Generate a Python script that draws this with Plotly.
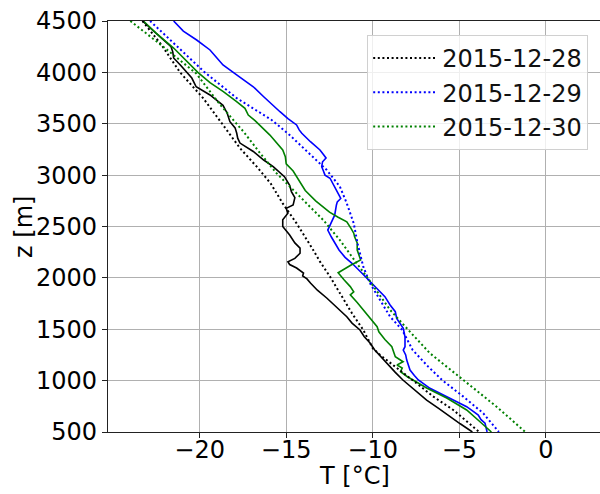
import plotly.graph_objects as go

# ---- data (T in °C, z in m) ----
obs_28_z = [4500, 4380, 4250, 4200, 4140, 4070, 3945, 3860, 3780, 3680, 3600, 3520, 3460, 3410, 3360, 3312,
            3230, 3147, 3082, 2985, 2900, 2840, 2780, 2710, 2677, 2630, 2565, 2500, 2417, 2340, 2290, 2240,
            2190, 2157, 2130, 2096, 2047, 2020, 1990, 1950, 1880, 1804, 1720, 1622, 1560, 1493, 1430, 1366,
            1300, 1233, 1150, 1080, 1006, 910, 811, 730, 649, 580, 500]
obs_28_t = [-23.3, -22.5, -21.65, -21.55, -21.5, -21.1, -20.45, -20.2, -19.4, -18.65, -18.4, -18.25, -17.95,
            -17.86, -17.8, -17.67, -16.9, -16.3, -15.75, -15.1, -14.8, -14.7, -14.5, -14.6, -15.0, -14.9, -15.2,
            -15.2, -14.8, -14.5, -14.2, -14.2, -14.5, -14.9, -14.8, -14.4, -14.0, -14.05, -13.8, -13.6, -13.2,
            -12.66, -12.1, -11.5, -11.2, -10.74, -10.5, -10.16, -9.9, -9.55, -9.1, -8.7, -8.26, -7.6, -6.89,
            -6.2, -5.54, -4.95, -4.25]

obs_29_z = [4500, 4402, 4315, 4218, 4140, 4072, 3975, 3920, 3860, 3763, 3690, 3617, 3550, 3488, 3440, 3407,
            3325, 3245, 3200, 3167, 3130, 3082, 3040, 3000, 2970, 2870, 2820, 2773, 2740, 2710, 2610, 2540,
            2465, 2400, 2335, 2271, 2200, 2142, 2050, 1963, 1890, 1817, 1736, 1671, 1606, 1550, 1509, 1427,
            1395, 1330, 1298, 1250, 1200, 1103, 1050, 1006, 925, 844, 800, 746, 700, 665, 620, 585, 500]
obs_29_t = [-21.5, -20.94, -20.17, -19.4, -19.0, -18.65, -17.86, -17.4, -16.9, -16.3, -15.85, -15.36, -14.9,
            -14.4, -14.25, -14.1, -13.6, -13.05, -12.85, -12.7, -12.9, -12.95, -12.85, -12.76, -12.47, -12.18,
            -12.0, -11.85, -12.05, -12.1, -12.2, -12.4, -12.6, -12.4, -12.18, -11.95, -11.6, -11.2, -10.65,
            -10.16, -9.75, -9.3, -9.0, -8.7, -8.62, -8.4, -8.24, -8.14, -8.14, -8.14, -8.24, -8.1, -8.04, -7.85,
            -7.6, -7.37, -6.7, -5.73, -5.2, -4.58, -4.2, -3.91, -3.75, -3.52, -3.4]

obs_30_z = [4500, 4380, 4237, 4120, 4000, 3900, 3813, 3720, 3650, 3585, 3530, 3390, 3245, 3180, 3110, 3040,
            2960, 2850, 2750, 2640, 2590, 2545, 2480, 2435, 2400, 2340, 2270, 2175, 2120, 2060, 2050, 1980,
            1915, 1865, 1835, 1760, 1690, 1600, 1525, 1475, 1400, 1330, 1280, 1233, 1184, 1152, 1123, 1087,
            1038, 980, 928, 831, 714, 600, 519, 500]
obs_30_t = [-23.25, -22.5, -21.5, -20.8, -20.1, -19.4, -18.63, -17.9, -17.38, -17.19, -16.8, -15.94, -15.2,
            -15.05, -15.0, -14.6, -14.3, -13.9, -13.3, -12.5, -12.0, -11.5, -11.25, -11.1, -11.05, -10.9, -10.9,
            -10.7, -11.3, -11.9, -12.0, -11.65, -11.3, -11.1, -11.3, -10.9, -10.55, -10.15, -9.75, -9.65, -9.3,
            -8.9, -8.8, -8.7, -8.25, -8.6, -8.3, -8.4, -8.0, -7.4, -6.89, -5.73, -4.58, -3.81, -3.23, -3.15]

mod_28_z = [4500, 4267, 4000, 3750, 3500, 3263, 3082, 2920, 2725, 2530, 2288, 2158, 2012, 1850, 1655, 1493,
            1315, 1250, 1103, 974, 844, 714, 500]
mod_28_t = [-23.3, -22.2, -21.13, -19.8, -18.7, -17.67, -16.7, -15.9, -15.2, -14.4, -13.5, -13.05, -12.47,
            -11.9, -11.2, -10.55, -10.0, -9.58, -8.43, -7.47, -6.5, -5.35, -3.85]

mod_29_z = [4500, 4250, 4000, 3750, 3537, 3390, 3195, 3050, 2888, 2725, 2530, 2335, 2109, 1947, 1785, 1622,
            1493, 1298, 1136, 1006, 844, 682, 500]
mod_29_t = [-22.86, -21.3, -19.7, -17.86, -15.84, -14.8, -13.6, -12.66, -11.9, -11.5, -11.1, -10.88, -10.55,
            -10.16, -9.58, -9.0, -8.3, -7.7, -6.8, -6.0, -4.77, -3.62, -2.72]

mod_30_z = [4500, 4250, 3990, 3682, 3420, 3212, 3017, 2888, 2725, 2563, 2368, 2271, 2142, 2012, 1850, 1688,
            1493, 1266, 1006, 746, 500]
mod_30_t = [-24.0, -22.1, -20.2, -18.8, -17.45, -16.5, -15.55, -14.8, -13.8, -12.86, -11.9, -11.5, -10.93,
            -10.35, -9.68, -9.0, -7.95, -6.7, -4.77, -2.85, -1.19]

dates = ["2015-12-28", "2015-12-29", "2015-12-30"]
colors = ["#000000", "#0000ff", "#008000"]
x_title = "T [°C]"
y_title = "z [m]"

obs = [(obs_28_t, obs_28_z), (obs_29_t, obs_29_z), (obs_30_t, obs_30_z)]
mod = [(mod_28_t, mod_28_z), (mod_29_t, mod_29_z), (mod_30_t, mod_30_z)]

fig = go.Figure()
for (t, z), c in zip(obs, colors):
    fig.add_trace(go.Scatter(x=t, y=z, mode="lines", line=dict(color=c, width=1.6),
                             showlegend=False, hoverinfo="skip"))
for (t, z), c, d in zip(mod, colors, dates):
    fig.add_trace(go.Scatter(x=t, y=z, mode="lines", name=d,
                             line=dict(color=c, width=2, dash="2px,2.6px")))

font = "DejaVu Sans, Verdana, sans-serif"
fig.update_layout(
    width=600, height=494,
    margin=dict(l=108, r=0, t=21, b=62),
    plot_bgcolor="white", paper_bgcolor="white",
    font=dict(family=font, size=24, color="black"),
    showlegend=True,
    legend=dict(x=0.976, y=0.966, xanchor="right", yanchor="top",
                bgcolor="rgba(255,255,255,0.8)", bordercolor="#d0d0d0", borderwidth=1,
                font=dict(family=font, size=24, color="#111111"),
                itemwidth=64),
    xaxis=dict(range=[-25.29, 3.12], tickvals=[-20, -15, -10, -5, 0], automargin=False,
               showgrid=True, gridcolor="#b0b0b0", gridwidth=1, zeroline=False,
               showline=True, linecolor="#222222", linewidth=1.2, mirror=True,
               ticks="outside", ticklen=5, tickcolor="#222222", ticklabelstandoff=-9),
    yaxis=dict(range=[500, 4500], tickvals=list(range(500, 4501, 500)), automargin=False,
               showgrid=True, gridcolor="#b0b0b0", gridwidth=1, zeroline=False,
               showline=True, linecolor="#222222", linewidth=1.2,
               ticks="outside", ticklen=5, tickcolor="#222222"),
    annotations=[
        dict(text=x_title, xref="paper", yref="paper", x=0.5, y=-0.108, xanchor="center",
             yanchor="middle", showarrow=False, font=dict(family=font, size=24)),
        dict(text=y_title, xref="paper", yref="paper", x=-0.172, y=0.5, xanchor="center",
             yanchor="middle", textangle=-90, showarrow=False, font=dict(family=font, size=24)),
    ],
)
fig.write_html("out.html")
